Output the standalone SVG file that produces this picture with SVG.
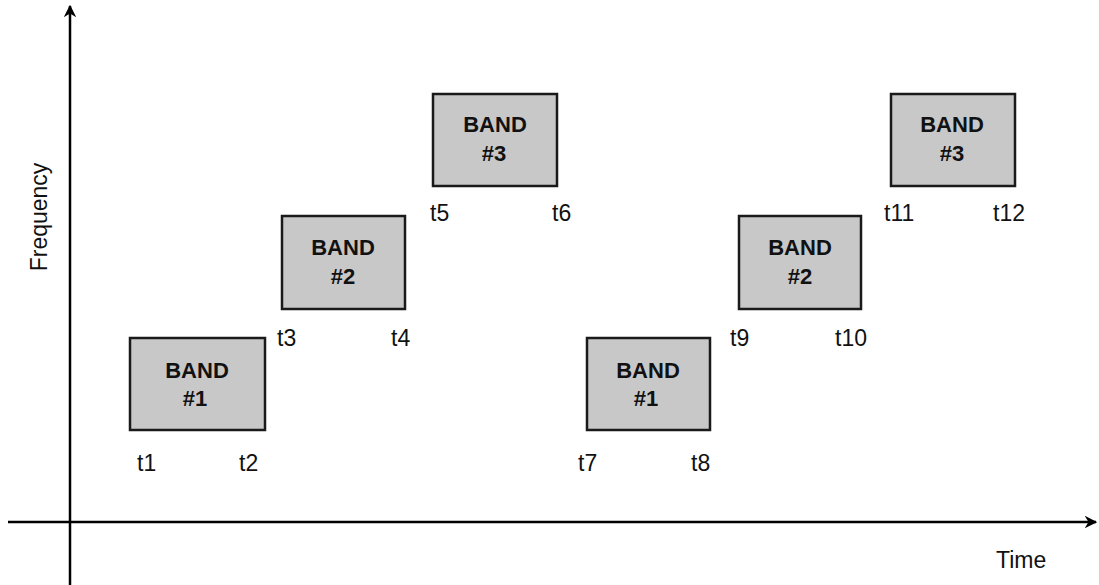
<svg xmlns="http://www.w3.org/2000/svg" width="1099" height="585" viewBox="0 0 1099 585">
<style>
.box{fill:#c8c8c8;stroke:#1a1a1a;stroke-width:2.5}
.bt{font-family:"Liberation Sans",Arial,sans-serif;font-size:22px;font-weight:bold;fill:#111;text-anchor:middle}
.tl{font-family:"Liberation Sans",Arial,sans-serif;font-size:23px;fill:#111}
.ax{stroke:#000;stroke-width:2.5;fill:none}
</style>
<defs>
<marker id="ah" viewBox="0 0 10 10" refX="9" refY="5" markerWidth="5" markerHeight="5" orient="auto" markerUnits="strokeWidth">
<path d="M0,0 L10,5 L0,10 L3,5 z" fill="#000"/>
</marker>
</defs>
<rect width="1099" height="585" fill="#fff"/>
<g id="connectors">
<line class="ax" x1="70" y1="585" x2="70" y2="6" marker-end="url(#ah)"/>
<line class="ax" x1="8" y1="522" x2="1096" y2="522" marker-end="url(#ah)"/>
</g>
<g id="axis-labels">
<text class="tl" x="996" y="568" font-size="24">Time</text>
<text class="tl" transform="translate(47,217) rotate(-90)" text-anchor="middle" font-size="24">Frequency</text>
</g>
<g id="band1a">
<rect class="box" x="130" y="338" width="135" height="92"/>
<text class="bt" x="197" y="378">BAND</text>
<text class="bt" x="195" y="406">#1</text>
<text class="tl" x="137" y="471">t1</text>
<text class="tl" x="239" y="471">t2</text>
</g>
<g id="band2a">
<rect class="box" x="282" y="216" width="123" height="93"/>
<text class="bt" x="343" y="255">BAND</text>
<text class="bt" x="343" y="284">#2</text>
<text class="tl" x="277" y="346">t3</text>
<text class="tl" x="391" y="346">t4</text>
</g>
<g id="band3a">
<rect class="box" x="433" y="94" width="124" height="92"/>
<text class="bt" x="495" y="132">BAND</text>
<text class="bt" x="494" y="161">#3</text>
<text class="tl" x="430" y="221">t5</text>
<text class="tl" x="552" y="221">t6</text>
</g>
<g id="band1b">
<rect class="box" x="587" y="338" width="123" height="92"/>
<text class="bt" x="648" y="378">BAND</text>
<text class="bt" x="646" y="406">#1</text>
<text class="tl" x="578" y="471">t7</text>
<text class="tl" x="691" y="471">t8</text>
</g>
<g id="band2b">
<rect class="box" x="739" y="216" width="122" height="93"/>
<text class="bt" x="800" y="255">BAND</text>
<text class="bt" x="800" y="284">#2</text>
<text class="tl" x="730" y="346">t9</text>
<text class="tl" x="835" y="346">t10</text>
</g>
<g id="band3b">
<rect class="box" x="891" y="94" width="124" height="92"/>
<text class="bt" x="952" y="132">BAND</text>
<text class="bt" x="952" y="161">#3</text>
<text class="tl" x="884" y="221">t11</text>
<text class="tl" x="993" y="221">t12</text>
</g>
</svg>
